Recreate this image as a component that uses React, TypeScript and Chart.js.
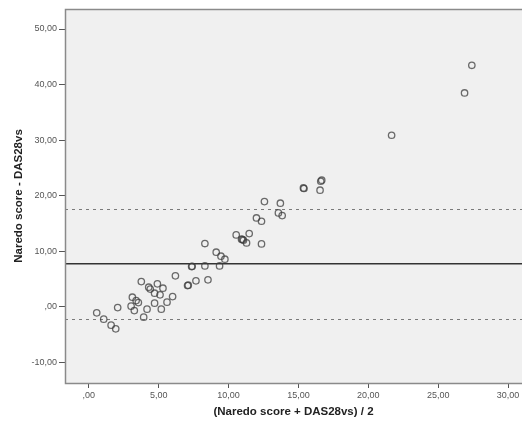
import React, { useEffect, useRef } from "react";
import { Chart, registerables } from "chart.js";

Chart.register(...registerables);

// Bland-Altman data: mean of the two scores (x) vs difference (y)
const meanValues: number[] = [
  0.57, 1.07, 1.6, 1.93, 2.07, 3.03, 3.12, 3.26, 3.39, 3.55,
  3.76, 3.93, 4.17, 4.29, 4.4, 4.71, 4.91, 5.1, 5.31, 4.71,
  5.19, 5.6, 6.0, 6.2, 7.07, 7.12, 7.67, 8.53, 7.36, 7.4,
  8.31, 9.36, 8.31, 9.12, 9.46, 9.74, 10.55, 10.93, 11.0, 11.07,
  11.29, 11.48, 12.36, 12.0, 12.36, 12.57, 13.71, 13.57, 13.84, 15.36,
  15.4, 16.67, 16.6, 16.55, 21.67, 26.89, 27.41,
];
const diffValues: number[] = [
  -1.08, -2.21, -3.29, -3.96, -0.13, 0.13, 1.74, -0.67, 1.13, 0.77,
  4.55, -1.85, -0.41, 3.54, 3.2, 2.46, 4.14, 2.16, 3.36, 0.67,
  -0.41, 0.85, 1.85, 5.58, 3.83, 3.9, 4.68, 4.86, 7.25, 7.3,
  7.37, 7.37, 11.39, 9.84, 9.12, 8.58, 12.95, 12.18, 12.1, 12.0,
  11.51, 13.18, 11.33, 16.0, 15.41, 18.94, 18.65, 16.91, 16.42, 21.4,
  21.3, 22.79, 22.6, 20.99, 30.88, 38.49, 43.47,
];

const MEAN_DIFF = 7.75;
const UPPER_LOA = 17.6;
const LOWER_LOA = -2.1;

const xTicks: number[] = [0, 5, 10, 15, 20, 25, 30];
const yTicks: number[] = [-10, 0, 10, 20, 30, 40, 50];

const X_TITLE = "(Naredo score + DAS28vs) / 2";
const Y_TITLE = "Naredo score - DAS28vs";

const fmt = (v: number) => (v === 0 ? ",00" : v.toFixed(2).replace(".", ","));

const frameAndLines = {
  id: "frameAndLines",
  beforeDatasetsDraw(chart: any) {
    const { ctx, chartArea: a, scales } = chart;
    const y = scales.y;
    ctx.save();
    ctx.strokeStyle = "#7a7a7a";
    ctx.lineWidth = 1.2;
    ctx.setLineDash([3, 4]);
    [UPPER_LOA, LOWER_LOA].forEach((v) => {
      const py = Math.round(y.getPixelForValue(v)) + 0.5;
      ctx.beginPath();
      ctx.moveTo(a.left, py);
      ctx.lineTo(a.right, py);
      ctx.stroke();
    });
    ctx.setLineDash([]);
    ctx.strokeStyle = "#333333";
    ctx.lineWidth = 1.6;
    const pm = y.getPixelForValue(MEAN_DIFF);
    ctx.beginPath();
    ctx.moveTo(a.left, pm);
    ctx.lineTo(a.right, pm);
    ctx.stroke();
    ctx.restore();
  },
  beforeDraw(chart: any) {
    const { ctx, chartArea: a } = chart;
    ctx.save();
    ctx.fillStyle = "#ffffff";
    ctx.fillRect(0, 0, chart.width, chart.height);
    ctx.fillStyle = "#f0f0f0";
    ctx.fillRect(a.left, a.top, a.right - a.left, a.bottom - a.top);
    ctx.restore();
  },
  afterDraw(chart: any) {
    const { ctx, chartArea: a } = chart;
    ctx.save();
    ctx.strokeStyle = "#8a8a8a";
    ctx.lineWidth = 1.5;
    ctx.strokeRect(a.left + 0.5, a.top + 0.5, a.right - a.left + 4, a.bottom - a.top);
    ctx.restore();
  },
};

export default function App() {
  const ref = useRef<HTMLCanvasElement | null>(null);

  useEffect(() => {
    if (!ref.current) return;
    const points = meanValues.map((x, i) => ({ x, y: diffValues[i] }));
    const chart = new Chart(ref.current, {
      type: "scatter",
      data: {
        datasets: [
          {
            data: points,
            pointStyle: "circle",
            pointRadius: 3.2,
            pointBorderWidth: 1.3,
            pointBorderColor: "rgba(60,60,60,0.75)",
            pointBackgroundColor: "rgba(0,0,0,0)",
          },
        ],
      },
      options: {
        animation: false,
        responsive: false,
        maintainAspectRatio: false,
        devicePixelRatio: 1,
        layout: { padding: { top: 9, right: 0, left: 0, bottom: 0 }, autoPadding: false },
        plugins: { legend: { display: false }, tooltip: { enabled: false } },
        scales: {
          x: {
            type: "linear",
            min: -1.7,
            max: 31,
            afterBuildTicks: (s: any) => {
              s.ticks = xTicks.map((v) => ({ value: v }));
            },
            afterFit: (s: any) => {
              s.height = 40;
              s.paddingLeft = 0;
              s.paddingRight = 0;
            },
            ticks: {
              callback: (v: any) => fmt(Number(v)),
              color: "#555555",
              font: { family: "Arial, 'Liberation Sans', sans-serif", size: 9 },
              padding: 2,
              maxRotation: 0,
            },
            grid: {
              drawOnChartArea: false,
              drawTicks: true,
              tickLength: 5,
              color: "#555555",
            },
            border: { display: true, color: "#777777" },
            title: {
              display: true,
              text: X_TITLE,
              color: "#222222",
              font: { family: "Arial, 'Liberation Sans', sans-serif", size: 11.5, weight: "bold" },
              padding: { top: 0, bottom: 4 },
            },
          },
          y: {
            type: "linear",
            min: -13.7,
            max: 53.6,
            afterBuildTicks: (s: any) => {
              s.ticks = yTicks.map((v) => ({ value: v }));
            },
            afterFit: (s: any) => {
              s.width = 65;
              s.paddingTop = 0;
              s.paddingBottom = 0;
            },
            ticks: {
              callback: (v: any) => fmt(Number(v)),
              color: "#555555",
              font: { family: "Arial, 'Liberation Sans', sans-serif", size: 9 },
              padding: 2,
            },
            grid: {
              drawOnChartArea: false,
              drawTicks: true,
              tickLength: 6,
              color: "#555555",
            },
            border: { display: true, color: "#777777" },
            title: {
              display: true,
              text: Y_TITLE,
              color: "#222222",
              font: { family: "Arial, 'Liberation Sans', sans-serif", size: 11.5, weight: "bold" },
              padding: { top: 12, bottom: 0 },
            },
          },
        },
      },
      plugins: [frameAndLines],
    });
    return () => chart.destroy();
  }, []);

  return (
    <div style={{ position: "absolute", left: 0, top: 0, width: 522, height: 423, background: "#fff" }}>
      <canvas ref={ref} width={522} height={423} style={{ width: 522, height: 423, display: "block" }} />
    </div>
  );
}
